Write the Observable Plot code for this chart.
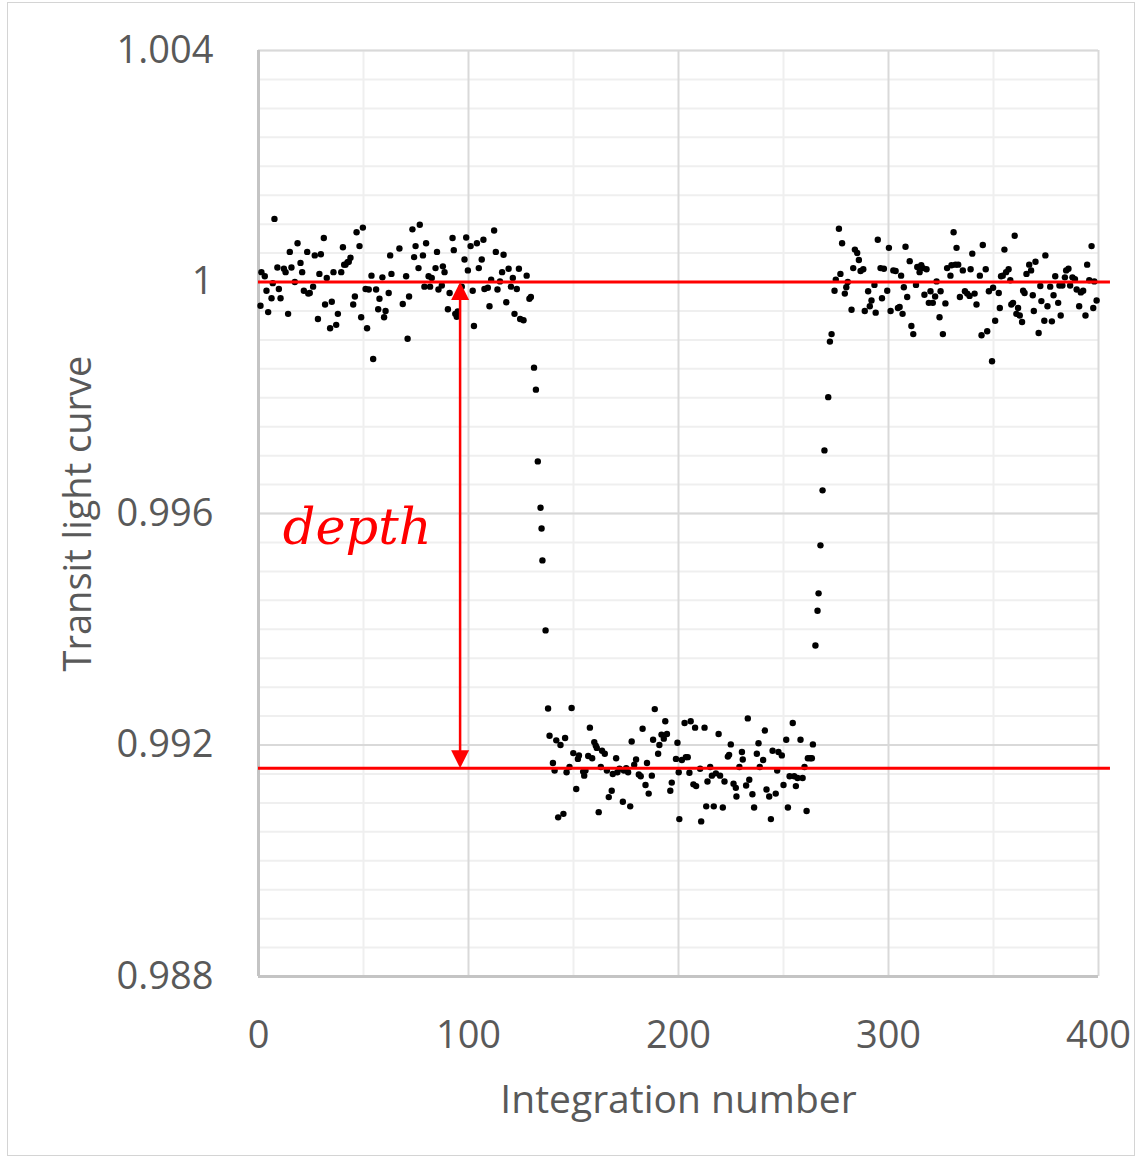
<!DOCTYPE html>
<html>
<head>
<meta charset="utf-8">
<script src="https://cdn.jsdelivr.net/npm/d3@7"></script>
<script src="https://cdn.jsdelivr.net/npm/@observablehq/plot@0.6"></script>
<style>
  html, body { margin: 0; padding: 0; background: #fff; }
  #wrap { position: relative; width: 1138px; height: 1159px; overflow: hidden; }
  #frame { position: absolute; left: 7px; top: 2px; width: 1128px; height: 1154px;
           border: 1.5px solid #d4d4d4; box-sizing: border-box; pointer-events: none; }
</style>
</head>
<body>
<div id="wrap"><div id="frame"></div></div>
<script>
// Normalised flux per integration, read segment by segment: [integration, flux]
const preTransit = [
  [0.95,0.99959],[1.4,1.00017],[3.0,1.00010],[3.8,0.99985],[4.6,0.99948],[6.2,0.99972],
  [6.8,0.99998],[7.6,1.00109],[9.0,1.00025],[9.7,0.99988],[10.5,0.99972],[12.1,1.00023],
  [12.9,1.00017],[14.1,0.99945],[14.9,1.00052],[15.7,1.00025],[17.3,1.00000],[18.6,1.00067],
  [20.0,1.00033],[20.8,1.00017],[21.6,0.99985],[23.2,1.00052],[23.7,0.99980],[24.4,0.99981],
  [26.0,0.99992],[26.8,1.00046],[28.3,0.99936],[29.0,1.00014],[29.7,1.00048],[31.1,1.00076],
  [31.7,0.99961],[32.5,1.00007],[34.1,0.99920],[34.9,0.99966],[35.7,1.00017],[37.0,0.99926],
  [37.8,0.99945],[39.4,1.00017],[40.2,1.00060],[40.8,1.00030],[41.4,1.00030],[42.4,1.00034],
  [43.0,1.00035],[43.8,1.00042],[45.1,0.99961],[45.9,0.99975],[46.7,1.00086],[48.1,1.00062],
  [48.9,0.99939],[49.7,1.00094],[51.0,0.99988],[51.7,0.99920],[52.5,0.99987],[53.8,1.00011],
  [54.6,0.99867],[56.0,0.99987],[57.0,0.99953],[57.6,0.99971],[59.0,1.00008],[59.8,0.99939],
  [60.5,0.99950],[62.0,0.99981],[62.7,1.00046],[63.3,1.00014],[67.1,1.00058],[68.7,0.99962],
  [70.3,1.00010],[71.0,0.99902],[71.7,0.99975],[73.3,1.00091],[74.1,1.00043],[74.8,1.00062],
  [76.2,1.00024],[76.8,1.00099],[78.3,1.00046],[79.0,0.99992],[79.8,1.00067],[81.0,1.00010],
  [81.7,0.99992],[82.5,1.00007],[84.3,1.00024],[85.0,1.00052],[85.7,0.99987],[87.3,0.99994],
  [87.8,1.00027],[88.6,1.00017],[90.2,0.99953],[91.0,0.99981],[92.4,1.00076],[93.0,1.00055],
  [93.7,0.99945],[94.4,0.99940],[94.9,0.99949],[96.8,0.99992],[98.1,1.00039],[98.9,1.00077],
  [99.7,1.00020],[101.0,1.00062],[102.0,0.99985],[102.6,0.99924],[104.0,1.00067],[104.9,1.00024],
  [106.3,1.00039],[107.1,1.00073],[107.6,0.99988],[109.2,0.99990],[110.0,0.99958],[110.8,1.00004],
  [112.2,1.00089],[113.0,1.00052],[113.8,0.99987],[115.0,1.00001],[116.0,1.00017],[116.7,1.00047],
  [118.0,0.99965],[119.1,1.00023],[120.2,0.99992],[121.1,1.00007],[121.9,0.99945],[123.0,0.99988],
  [124.0,1.00023],[124.6,0.99936],[126.2,0.99934],[127.7,1.00011],[129.0,0.99971],[129.7,0.99974]
];

const ingress = [
  [131.2,0.99852],[132.1,0.99814],[133.0,0.99690],[134.3,0.99610],
  [134.8,0.99574],[135.2,0.99519],[136.7,0.99398]
];

const inTransit = [
  [137.9,0.99263],[138.6,0.99216],[140.2,0.99169],[141.0,0.99156],[141.8,0.99208],[142.7,0.99075],
  [143.8,0.99200],[145.2,0.99081],[146.0,0.99212],[146.7,0.99153],[148.1,0.99162],[149.1,0.99264],
  [149.9,0.99186],[151.3,0.99124],[152.1,0.99176],[152.6,0.99182],[154.6,0.99154],[155.1,0.99147],
  [155.7,0.99156],[157.0,0.99181],[157.8,0.99230],[158.9,0.99177],[159.9,0.99205],[160.6,0.99199],
  [161.1,0.99195],[162.0,0.99084],[163.0,0.99162],[163.6,0.99190],[164.9,0.99185],[165.9,0.99156],
  [166.8,0.99110],[168.2,0.99121],[168.7,0.99150],[170.3,0.99177],[170.9,0.99153],[171.9,0.99159],
  [173.5,0.99102],[174.0,0.99156],[175.1,0.99160],[176.0,0.99153],[177.0,0.99094],[177.7,0.99206],
  [178.9,0.99166],[179.8,0.99175],[181.1,0.99149],[182.0,0.99146],[182.9,0.99228],[184.3,0.99131],
  [185.0,0.99169],[185.8,0.99116],[187.3,0.99147],[187.9,0.99209],[188.7,0.99262],[190.3,0.99185],
  [190.9,0.99200],[191.9,0.99218],[193.0,0.99211],[193.7,0.99241],[194.5,0.99219],[196.1,0.99121],
  [196.8,0.99135],[198.8,0.99176],[199.5,0.99204],[200.1,0.99153],[200.4,0.99072],[201.6,0.99174],
  [202.9,0.99238],[203.5,0.99179],[204.4,0.99179],[205.2,0.99152],[205.8,0.99241],[207.1,0.99132],
  [207.9,0.99230],[208.4,0.99129],[210.3,0.99159],[210.8,0.99068],[212.4,0.99230],[213.2,0.99094],
  [213.8,0.99137],[215.1,0.99162],[215.9,0.99147],[216.8,0.99094],[217.8,0.99151],[219.1,0.99219],
  [219.8,0.99147],[221.1,0.99092],[221.9,0.99137],[223.5,0.99180],[224.1,0.99183],[224.9,0.99201],
  [226.2,0.99133],[227.3,0.99126],[227.6,0.99111],[229.0,0.99162],[230.2,0.99188],[230.6,0.99175],
  [232.2,0.99130],[233.0,0.99246],[233.7,0.99140],[235.2,0.99115],[236.0,0.99092],[237.3,0.99185],
  [238.1,0.99203],[238.7,0.99162],[240.3,0.99174],[241.1,0.99225],[241.9,0.99123],[243.2,0.99111],
  [244.0,0.99072],[244.8,0.99190],[246.3,0.99116],[247.0,0.99156],[247.6,0.99188],[249.2,0.99182],
  [250.0,0.99131],[251.3,0.99209],[252.1,0.99092],[252.9,0.99146],[254.4,0.99238],[255.1,0.99146],
  [255.9,0.99129],[256.7,0.99143],[258.1,0.99209],[259.1,0.99143],[260.0,0.99162],[261.0,0.99086],
  [261.6,0.99177],[262.7,0.99177],[263.5,0.99177],[264.0,0.99201]
];

const egress = [
  [265.2,0.99372],[266.2,0.99432],[266.7,0.99462],[267.6,0.99545],[268.6,0.99640],
  [269.5,0.99709],[271.3,0.99801],[272.1,0.99897],[272.9,0.99910]
];

const postTransit = [
  [274.3,0.99985],[274.9,1.00004],[276.4,1.00092],[277.1,1.00014],[277.9,1.00067],[279.2,0.99980],
  [279.9,0.99991],[280.6,1.00000],[282.4,0.99952],[283.2,1.00024],[284.0,1.00056],[285.1,1.00050],
  [285.9,1.00038],[286.7,1.00019],[288.0,1.00022],[288.7,0.99950],[290.3,0.99984],[291.1,0.99958],
  [291.9,0.99968],[293.3,0.99995],[293.9,0.99947],[294.9,1.00073],[296.2,1.00024],[296.9,0.99972],
  [297.8,1.00023],[299.4,0.99985],[300.2,1.00059],[301.0,0.99950],[302.3,1.00020],[303.4,1.00019],
  [304.5,0.99955],[305.3,0.99957],[306.0,1.00011],[306.7,0.99945],[307.3,0.99991],[308.1,1.00061],
  [308.9,0.99974],[310.1,1.00036],[310.9,0.99924],[311.8,0.99910],[313.1,0.99995],[313.7,1.00026],
  [314.8,1.00017],[315.6,1.00029],[316.4,1.00024],[317.1,0.99978],[318.1,1.00022],[319.2,0.99964],
  [320.0,0.99984],[321.1,0.99964],[322.2,0.99975],[322.9,1.00001],[324.3,0.99939],[324.8,0.99984],
  [325.9,0.99910],[327.1,0.99963],[327.9,1.00024],[329.5,1.00011],[330.0,1.00029],[331.0,1.00086],
  [331.9,1.00030],[332.4,1.00059],[333.2,1.00030],[334.0,0.99974],[335.4,1.00020],[336.4,0.99984],
  [337.5,0.99980],[338.6,0.99976],[339.1,1.00022],[339.9,1.00049],[341.0,0.99980],[341.9,0.99961],
  [343.5,1.00011],[344.3,0.99908],[344.9,1.00064],[346.3,1.00022],[347.0,0.99915],[347.8,0.99984],
  [349.3,0.99863],[349.8,0.99990],[350.8,0.99933],[352.5,0.99981],[353.0,0.99955],[353.6,1.00010],
  [354.4,1.00011],[355.2,1.00056],[356.0,1.00017],[357.2,1.00022],[358.0,1.00003],[358.5,0.99961],
  [359.3,0.99964],[360.1,1.00080],[360.9,0.99945],[361.7,0.99955],[362.5,0.99942],[363.6,0.99931],
  [364.1,0.99985],[364.8,0.99981],[365.7,1.00014],[367.0,1.00030],[367.9,1.00020],[368.7,0.99977],
  [369.2,0.99950],[370.0,1.00035],[371.5,0.99912],[372.3,0.99993],[372.8,0.99967],[374.2,0.99933],
  [374.7,1.00046],[375.7,0.99958],[377.0,0.99992],[377.8,0.99932],[378.6,0.99977],[379.4,1.00010],
  [380.8,0.99964],[381.4,0.99994],[382.0,0.99942],[382.8,0.99994],[384.0,1.00008],[384.6,1.00020],
  [385.7,1.00023],[386.5,0.99994],[387.6,1.00008],[388.8,1.00005],[389.6,0.99987],[390.8,0.99958],
  [391.6,0.99982],[392.7,0.99985],[393.8,0.99942],[394.6,1.00030],[395.6,1.00003],[396.7,1.00062],
  [397.5,0.99955],[398.0,1.00001],[399.1,0.99968]
];

// Reference levels: out-of-transit baseline and in-transit floor
const baselineFlux = 1;
const floorFlux = 0.9916;
const levelSpan = [0, 405.7];       // integration range covered by the two level lines
const depthAt = 96;                 // integration where the depth arrow is drawn
const depthLabel = "depth";
const depthLabelPos = [47, 0.99576];

// Axis ticks and labels
const xTicks = [0, 100, 200, 300, 400];
const xMinor = [50, 150, 250, 350];
const yTicks = [0.988, 0.992, 0.996, 1.000, 1.004];
const yTickLabels = ["0.988", "0.992", "0.996", "1", "1.004"];
const xTitle = "Integration number";
const yTitle = "Transit light curve";

const points = [...preTransit, ...ingress, ...inTransit, ...egress, ...postTransit]
  .map(([integration, flux]) => ({integration, flux}));
const levels = [baselineFlux, floorFlux].map(y => ({y, x1: levelSpan[0], x2: levelSpan[1]}));
const yMinor = d3.ticks(yTicks[0], yTicks[yTicks.length - 1], 32);

// Filled triangular arrowheads, tip at the symbol origin
const headUp = {draw(ctx) { ctx.moveTo(0, 0); ctx.lineTo(9, 18); ctx.lineTo(-9, 18); ctx.closePath(); }};
const headDown = {draw(ctx) { ctx.moveTo(0, 0); ctx.lineTo(9, -18); ctx.lineTo(-9, -18); ctx.closePath(); }};

const gridMinor = "#efefef", gridMajor = "#d9d9d9", axisLine = "#c4c4c4";
const font = "'Open Sans', sans-serif";

const chart = Plot.plot({
  width: 1138,
  height: 1159,
  marginLeft: 258,
  marginRight: 40,
  marginTop: 50,
  marginBottom: 183,
  style: {fontFamily: font, fontSize: "38px", color: "#595959", background: "transparent", overflow: "visible"},
  x: {domain: [0, 400], ticks: xTicks, tickSize: 0, tickPadding: 45, label: null, tickFormat: d => String(d)},
  y: {domain: [0.988, 1.004], ticks: yTicks, tickSize: 0, tickPadding: 45, label: null,
      tickFormat: d => yTickLabels[yTicks.findIndex(t => Math.abs(t - d) < 1e-9)]},
  marks: [
    Plot.ruleY(yMinor, {stroke: gridMinor, strokeWidth: 2}),
    Plot.ruleX(xMinor, {stroke: gridMinor, strokeWidth: 2}),
    Plot.ruleY(yTicks, {stroke: gridMajor, strokeWidth: 2}),
    Plot.ruleX(xTicks, {stroke: gridMajor, strokeWidth: 2}),
    Plot.ruleX([xTicks[0]], {stroke: axisLine, strokeWidth: 3}),
    Plot.ruleY([yTicks[0]], {stroke: axisLine, strokeWidth: 3}),
    Plot.dot(points, {x: "integration", y: "flux", r: 3.2, fill: "#000", stroke: "none"}),
    Plot.ruleY(levels, {y: "y", x1: "x1", x2: "x2", stroke: "#ff0000", strokeWidth: 3}),
    Plot.ruleX([depthAt], {y1: baselineFlux, y2: floorFlux, stroke: "#ff0000", strokeWidth: 2.5, insetTop: 10, insetBottom: 10}),
    Plot.dot([{x: depthAt, y: baselineFlux}], {x: "x", y: "y", symbol: headUp, r: 5, fill: "#ff0000", stroke: "none"}),
    Plot.dot([{x: depthAt, y: floorFlux}], {x: "x", y: "y", symbol: headDown, r: 5, fill: "#ff0000", stroke: "none"}),
    Plot.text([depthLabel], {x: depthLabelPos[0], y: depthLabelPos[1], text: d => d, fill: "#ff0000",
      fontSize: 51, fontStyle: "italic", fontFamily: "'DejaVu Serif', serif", textAnchor: "middle"}),
    Plot.text([xTitle], {frameAnchor: "bottom", dy: 124, text: d => d, fill: "#595959", fontSize: 39,
      fontFamily: font, textAnchor: "middle", lineAnchor: "middle"}),
    Plot.text([yTitle], {frameAnchor: "left", dx: -180, rotate: -90, text: d => d, fill: "#595959", fontSize: 38,
      fontFamily: font, textAnchor: "middle", lineAnchor: "middle"})
  ]
});
document.getElementById("wrap").prepend(chart);
</script>
</body>
</html>
